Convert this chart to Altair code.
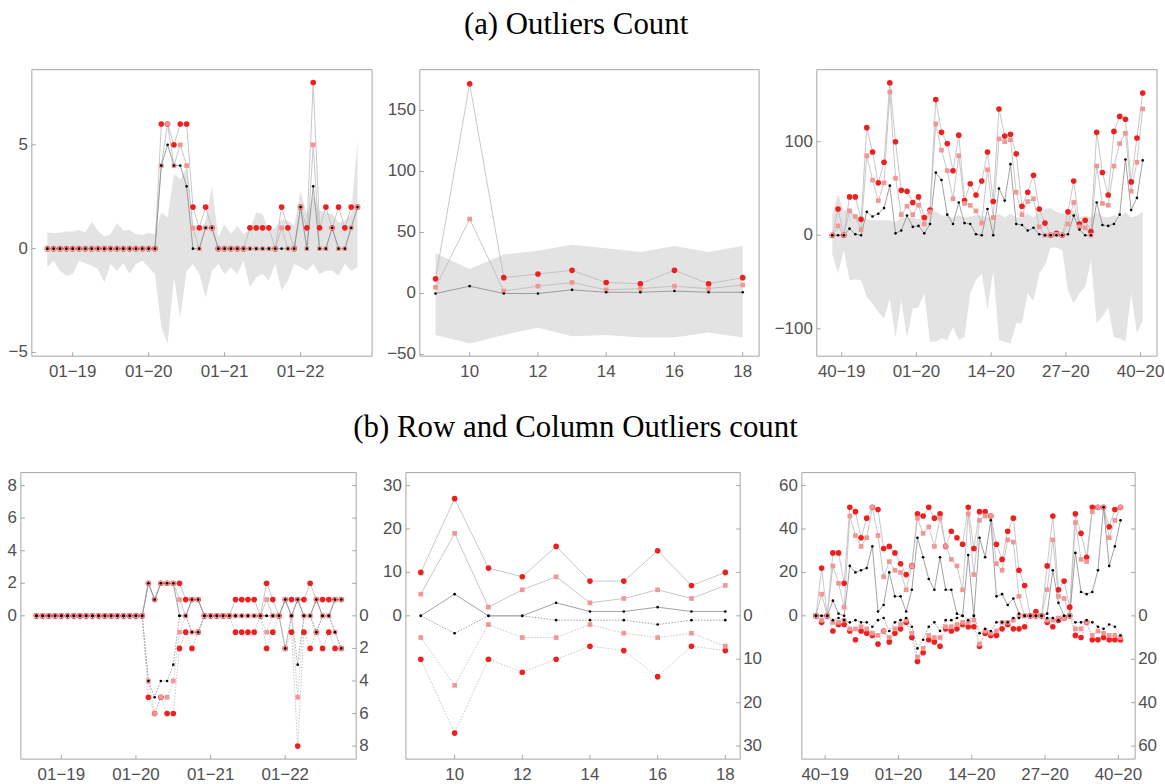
import altair as alt
import pandas as pd

TITLE_A = "(a) Outliers Count"
TITLE_B = "(b) Row and Column Outliers count"

# ---------- x positions / tick labels ----------
MONTH_X = list(range(-4, 46))          # 0 = Jan 2019
MONTH_TICKS = [0, 12, 24, 36]
MONTH_LABELS = ["01−19", "01−20", "01−21", "01−22"]

DAY_X = [9, 10, 11, 12, 13, 14, 15, 16, 17, 18]
DAY_TICKS = [10, 12, 14, 16, 18]
DAY_LABELS = ["10", "12", "14", "16", "18"]

WEEK_X = list(range(0, 55))
WEEK_TICKS = [1.63, 14.63, 27.63, 40.63, 53.63]
WEEK_LABELS = ["40−19", "01−20", "14−20", "27−20", "40−20"]

# ---------- (a) panel 1 : monthly ----------
P1_RED = [0, 0, 0, 0, 0, 0, 0, 0, 0, 0, 0, 0, 0, 0, 0, 0, 0, 0,
          6, 6, 5, 6, 6, 2, 1, 2, 1, 0, 0, 0, 0, 0, 1, 1, 1, 1, 0, 2, 1, 0,
          2, 1, 8, 1, 2, 1, 2, 1, 2, 2]
P1_PINK = [0, 0, 0, 0, 0, 0, 0, 0, 0, 0, 0, 0, 0, 0, 0, 0, 0, 0,
           4, 6, 4, 5, 4, 1, 0, 1, 1, 0, 0, 0, 0, 0, 0, 0, 0, 0, 0, 1, 0, 0,
           2, 0, 5, 0, 0, 1, 0, 0, 1, 2]
P1_BLACK = [0, 0, 0, 0, 0, 0, 0, 0, 0, 0, 0, 0, 0, 0, 0, 0, 0, 0,
            4, 5, 4, 4, 3, 0, 0, 1, 1, 0, 0, 0, 0, 0, 0, 0, 0, 0, 0, 0, 0, 0,
            2, 0, 3, 0, 0, 1, 0, 0, 1, 2]
P1_BAND_HI = [0.78, 0.74, 0.78, 0.83, 0.82, 0.9, 0.78, 1.3, 0.86, 0.58, 0.7, 1.24,
              0.86, 0.9, 0.7, 0.66, 0.75, 0.7,
              1.75, 1.5, 3.58, 3.34, 3.9, 1.02, 0.86, 1.34, 3.0, 0.54, 1.18, 0.7,
              1.1, 0.7, 0.94, 1.75, 1.66, 0.86, 1.02, 1.42, 1.34, 1.1, 2.78, 1.66,
              2.54, 1.82, 1.74, 1.66, 1.26, 1.34, 1.66, 5.18]
P1_BAND_LO = [-0.9, -0.58, -1.06, -1.3, -1.22, -0.58, -0.7, -0.82, -0.98, -1.62, -0.74,
              -1.09, -0.7, -1.22, -0.74, -0.58, -0.9, -1.22,
              -3.78, -4.58, -1.38, -3.3, -1.06, -0.74, -1.22, -2.34, -1.06, -0.74,
              -1.22, -0.9, -1.22, -0.58, -1.86, -1.38, -1.22, -1.54, -0.74, -2.02,
              -1.54, -0.74, -0.9, -1.06, -0.74, -1.22, -1.06, -1.06, -1.3, -0.74,
              -1.06, -0.9]

# ---------- (a) panel 2 : daily ----------
P2_RED = [12, 172, 13, 16, 19, 9, 8, 19, 8, 13]
P2_PINK = [5, 61, 2, 6, 9, 3, 4, 6, 4, 7]
P2_BLACK = [0, 6, 0, 0, 3, 1, 1, 2, 1, 1]
P2_BAND_HI = [33, 20, 32, 35, 40, 37, 34, 39, 34, 39]
P2_BAND_LO = [-34, -41, -34, -28, -35, -34, -36, -36, -32, -36]

# ---------- (a) panel 3 : weekly ----------
P3_RED = [0, 28, 0, 41, 41, 17, 115, 89, 56, 78,
          163, 100, 48, 47, 35, 41, 19, 27, 145, 110,
          98, 69, 107, 37, 55, 43, 58, 89, 36, 135,
          106, 108, 87, 31, 46, 64, 28, 13, 0, 2,
          0, 25, 58, 12, 16, 4, 110, 67, 43, 111,
          127, 124, 57, 104, 152]
P3_PINK = [0, 10, 0, 26, 20, 6, 85, 59, 37, 56,
           153, 61, 22, 31, 22, 32, 12, 25, 119, 91,
           69, 39, 85, 34, 32, 26, 13, 70, 19, 103,
           100, 102, 46, 22, 36, 39, 9, 0, 0, 1,
           0, 12, 35, 9, 8, 0, 74, 34, 32, 74,
           98, 109, 47, 78, 135]
P3_BLACK = [0, 0, 0, 7, 1, 0, 25, 20, 23, 29,
            53, 2, 5, 21, 9, 10, 2, 12, 67, 59,
            22, 12, 35, 13, 12, 1, 0, 28, 0, 50,
            37, 76, 12, 11, 5, 8, 1, 0, 0, 0,
            0, 1, 21, 6, 0, 0, 35, 11, 10, 12,
            22, 81, 27, 40, 80]
P3_BAND_HI = [23, 44, 26, 30, 19, 19, 17, 16, 16, 16,
              16, 14, 19, 19, 19, 17, 19, 23, 26, 21,
              21, 19, 21, 19, 20, 21, 21, 19, 19, 23,
              19, 23, 19, 19, 23, 19, 25, 28, 29, 25,
              23, 23, 27, 19, 21, 19, 25, 20, 19, 21,
              19, 25, 19, 21, 25]
P3_BAND_LO = [-20, -41, -16, -48, -47, -48, -66, -73, -82, -89,
              -68, -109, -70, -109, -78, -77, -62, -114, -114, -110,
              -112, -98, -112, -109, -62, -48, -41, -80, -38, -112,
              -114, -116, -94, -94, -62, -70, -41, -32, -13, -13,
              -16, -59, -73, -62, -55, -27, -94, -87, -77, -109,
              -110, -114, -62, -105, -91]

# ---------- (b) panel 4 : monthly, rows (up) / columns (down) ----------
P4_UP_RED = [0, 0, 0, 0, 0, 0, 0, 0, 0, 0, 0, 0, 0, 0, 0, 0, 0, 0,
             2, 1, 2, 2, 2, 2, 1, 1, 1, 0, 0, 0, 0, 0, 1, 1, 1, 1, 0, 2, 1, 0,
             1, 1, 1, 1, 2, 1, 1, 1, 1, 1]
P4_UP_PINK = [0, 0, 0, 0, 0, 0, 0, 0, 0, 0, 0, 0, 0, 0, 0, 0, 0, 0,
              2, 1, 2, 2, 2, 1, 0, 1, 1, 0, 0, 0, 0, 0, 0, 0, 0, 0, 0, 1, 0, 0,
              1, 0, 1, 0, 0, 1, 0, 0, 1, 1]
P4_UP_BLACK = [0, 0, 0, 0, 0, 0, 0, 0, 0, 0, 0, 0, 0, 0, 0, 0, 0, 0,
               2, 1, 2, 2, 2, 0, 0, 1, 1, 0, 0, 0, 0, 0, 0, 0, 0, 0, 0, 0, 0, 0,
               1, 0, 1, 0, 0, 1, 0, 0, 1, 1]
P4_LO_RED = [0, 0, 0, 0, 0, 0, 0, 0, 0, 0, 0, 0, 0, 0, 0, 0, 0, 0,
             -5, -6, -5, -6, -6, -2, -1, -2, -1, 0, 0, 0, 0, 0, -1, -1, -1, -1, 0,
             -2, -1, 0, -2, -1, -8, -1, -2, -1, -2, -1, -2, -2]
P4_LO_PINK = [0, 0, 0, 0, 0, 0, 0, 0, 0, 0, 0, 0, 0, 0, 0, 0, 0, 0,
              -4, -6, -5, -5, -4, -1, 0, -1, -1, 0, 0, 0, 0, 0, 0, 0, 0, 0, 0,
              -1, 0, 0, -2, 0, -5, 0, 0, -1, 0, 0, -1, -2]
P4_LO_BLACK = [0, 0, 0, 0, 0, 0, 0, 0, 0, 0, 0, 0, 0, 0, 0, 0, 0, 0,
               -4, -5, -4, -4, -3, 0, 0, -1, -1, 0, 0, 0, 0, 0, 0, 0, 0, 0, 0,
               0, 0, 0, -2, 0, -3, 0, 0, -1, 0, 0, -1, -2]

# ---------- (b) panel 5 : daily ----------
P5_UP_RED = [10, 27, 11, 9, 16, 8, 8, 15, 7, 10]
P5_UP_PINK = [5, 19, 2, 6, 9, 3, 4, 6, 4, 7]
P5_UP_BLACK = [0, 5, 0, 0, 3, 1, 1, 2, 1, 1]
P5_LO_RED = [-10, -27, -10, -13, -10, -7, -8, -14, -7, -8]
P5_LO_PINK = [-5, -16, -2, -5, -5, -2, -4, -5, -4, -7]
P5_LO_BLACK = [0, -4, 0, 0, -1, -1, -1, -2, -1, -1]

# ---------- (b) panel 6 : weekly ----------
P6_UP_RED = [0, 22, 0, 29, 29, 15, 50, 48, 36, 45,
             50, 49, 31, 32, 29, 24, 19, 23, 47, 46,
             50, 45, 47, 32, 39, 36, 33, 50, 31, 48,
             48, 46, 33, 26, 39, 45, 21, 14, 0, 2,
             0, 23, 46, 12, 16, 4, 47, 38, 27, 50,
             50, 50, 41, 49, 50]
P6_UP_PINK = [0, 10, 0, 23, 15, 4, 46, 37, 32, 36,
              50, 37, 18, 25, 21, 20, 12, 23, 45, 38,
              41, 32, 45, 32, 26, 23, 12, 47, 19, 44,
              46, 46, 24, 21, 35, 34, 9, 0, 0, 0,
              0, 12, 35, 9, 8, 0, 43, 26, 25, 48,
              50, 50, 36, 44, 50]
P6_UP_BLACK = [0, 0, 0, 7, 1, 0, 23, 20, 21, 22,
               32, 2, 5, 20, 9, 9, 2, 12, 36, 27,
               17, 12, 27, 12, 12, 1, 0, 28, 0, 36,
               27, 44, 9, 10, 5, 8, 1, 0, 0, 0,
               0, 1, 21, 6, 0, 0, 29, 11, 10, 11,
               21, 50, 23, 32, 44]
P6_LO_RED = [0, -3, 0, -7, -4, -4, -7, -11, -7, -8,
             -9, -13, -7, -12, -8, -6, -3, -10, -21, -17,
             -11, -12, -14, -6, -7, -6, -4, -5, -5, -14,
             -8, -9, -9, -6, -4, -6, -6, -5, 0, 0,
             0, -3, -5, -2, -1, 0, -9, -10, -3, -11,
             -11, -10, -11, -11, -11]
P6_LO_PINK = [0, -2, 0, -3, -3, -2, -6, -6, -5, -6,
              -8, -9, -7, -10, -6, -4, -2, -8, -19, -15,
              -9, -10, -10, -5, -5, -4, -3, -3, -2, -13,
              -7, -8, -7, -3, -3, -2, 0, 0, 0, 0,
              0, -2, -2, -1, -1, 0, -6, -6, -3, -9,
              -7, -8, -9, -9, -10]
P6_LO_BLACK = [0, 0, 0, -2, -1, -2, -3, -2, -3, -3,
               -5, -2, -1, -7, -3, -2, -1, -5, -15, -11,
               -5, -3, -7, -2, -2, -1, 0, -2, 0, -8,
               -6, -7, -3, -3, -3, -1, -1, 0, 0, 0,
               0, -1, -1, -2, 0, 0, -3, -3, -2, -3,
               -5, -6, -4, -5, -9]

# ---------- styles ----------
RED = "#ee1f1f"
PINK = "#f29595"
BLACK = "#000000"
LINE_LIGHT = "#b9b9b9"
LINE_DARK = "#8a8a8a"
BAND_C = "#e3e3e3"
FRAME = "#a4a4a4"
LABEL_C = "#505050"
LABEL_FONT = "Liberation Sans"
LABEL_SIZE = 17
TICK_LEN = 4


def fmt(v):
    return ("−" + str(abs(v))) if v < 0 else str(v)


def make_panel(xs, series, xdom, ydom, xticks, xlabels, yleft, w, h,
               band=None, yright_ticks=None, yright_labels=None):
    xsc = alt.Scale(domain=xdom, nice=False, zero=False)
    ysc = alt.Scale(domain=ydom, nice=False, zero=False)

    def X(f):
        return alt.X(f, type="quantitative", scale=xsc, axis=None)

    def Y(f):
        return alt.Y(f, type="quantitative", scale=ysc, axis=None)

    xspan = xdom[1] - xdom[0]
    yspan = ydom[1] - ydom[0]
    layers = []
    if band is not None:
        bdf = pd.DataFrame({"x": xs, "lo": band[0], "hi": band[1]})
        layers.append(alt.Chart(bdf).mark_area(color=BAND_C, opacity=1).encode(
            x=X("x"), y=Y("lo"), y2=alt.Y2("hi")))
    for vals, kind, down in series:
        df = pd.DataFrame({"x": xs, "y": vals})
        col = LINE_DARK if kind == "black" else LINE_LIGHT
        if down:
            mk = alt.Chart(df).mark_line(color=col, strokeWidth=0.8, strokeDash=[1.5, 1.5])
        else:
            mk = alt.Chart(df).mark_line(color=col, strokeWidth=0.8)
        layers.append(mk.encode(x=X("x"), y=Y("y")))
    for kind in ["red", "pink", "black"]:
        for vals, k, down in series:
            if k != kind:
                continue
            df = pd.DataFrame({"x": xs, "y": vals})
            if kind == "red":
                mk = alt.Chart(df).mark_circle(color=RED, size=32, opacity=1)
            elif kind == "pink":
                mk = alt.Chart(df).mark_square(color=PINK, size=22, opacity=1)
            else:
                mk = alt.Chart(df).mark_circle(color=BLACK, size=7, opacity=1)
            layers.append(mk.encode(x=X("x"), y=Y("y")))
    # bottom ticks + labels
    xt = pd.DataFrame({"tv": xticks, "lab": xlabels,
                       "yb": [ydom[0]] * len(xticks),
                       "yt": [ydom[0] + yspan * TICK_LEN / h] * len(xticks)})
    layers.append(alt.Chart(xt).mark_rule(color=FRAME, strokeWidth=1).encode(
        x=X("tv"), y=Y("yb"), y2=alt.Y2("yt")))
    layers.append(alt.Chart(xt).mark_text(
        align="center", baseline="top", font=LABEL_FONT, fontSize=LABEL_SIZE,
        color=LABEL_C, dy=8).encode(x=X("tv"), y=Y("yb"), text="lab:N"))
    # left ticks + labels
    yt = pd.DataFrame({"tv": yleft, "lab": [fmt(v) for v in yleft],
                       "xl": [xdom[0]] * len(yleft),
                       "xt": [xdom[0] + xspan * TICK_LEN / w] * len(yleft)})
    layers.append(alt.Chart(yt).mark_rule(color=FRAME, strokeWidth=1).encode(
        y=Y("tv"), x=X("xl"), x2=alt.X2("xt")))
    layers.append(alt.Chart(yt).mark_text(
        align="right", baseline="middle", font=LABEL_FONT, fontSize=LABEL_SIZE,
        color=LABEL_C, dx=-4).encode(y=Y("tv"), x=X("xl"), text="lab:N"))
    if yright_ticks is not None:
        rt = pd.DataFrame({"tv": yright_ticks,
                           "xr": [xdom[1]] * len(yright_ticks),
                           "xq": [xdom[1] - xspan * TICK_LEN / w] * len(yright_ticks)})
        layers.append(alt.Chart(rt).mark_rule(color=FRAME, strokeWidth=1).encode(
            y=Y("tv"), x=X("xq"), x2=alt.X2("xr")))
        rl = pd.DataFrame({"tv": yright_labels,
                           "lab": [str(abs(v)) for v in yright_labels],
                           "xr": [xdom[1]] * len(yright_labels)})
        layers.append(alt.Chart(rl).mark_text(
            align="left", baseline="middle", font=LABEL_FONT, fontSize=LABEL_SIZE,
            color=LABEL_C, dx=3).encode(y=Y("tv"), x=X("xr"), text="lab:N"))
    fr = pd.DataFrame({"x0": [xdom[0]], "x1": [xdom[1]], "y0": [ydom[0]], "y1": [ydom[1]]})
    layers.append(alt.Chart(fr).mark_rect(filled=False, stroke=FRAME, strokeWidth=1).encode(
        x=X("x0"), x2=alt.X2("x1"), y=Y("y0"), y2=alt.Y2("y1")))
    return alt.layer(*layers).properties(width=w, height=h)


def spacer(w, h):
    return alt.Chart(pd.DataFrame({"s": [0]})).mark_point(opacity=0).encode(
        x=alt.X("s:Q", axis=None), y=alt.Y("s:Q", axis=None)).properties(width=w, height=h)


def title_chart(text, w, h, by):
    return alt.Chart(pd.DataFrame({"t": [text], "v": [by]})).mark_text(
        font="Liberation Serif", fontSize=31, align="center", baseline="alphabetic",
        color="black").encode(
        text="t:N", x=alt.X("t:N", axis=None),
        y=alt.Y("v:Q", axis=None, scale=alt.Scale(domain=[0, h], reverse=True, nice=False, zero=False))
    ).properties(width=w, height=h)


H = 288

p1 = make_panel(MONTH_X, [(P1_RED, "red", False), (P1_PINK, "pink", False), (P1_BLACK, "black", False)],
                [-6.45, 47.3], [-5.18, 8.62], MONTH_TICKS, MONTH_LABELS, [-5, 0, 5], 342, H,
                band=(P1_BAND_LO, P1_BAND_HI))
p2 = make_panel(DAY_X, [(P2_RED, "red", False), (P2_PINK, "pink", False), (P2_BLACK, "black", False)],
                [8.54, 18.48], [-51.4, 183.5], DAY_TICKS, DAY_LABELS, [-50, 0, 50, 100, 150], 341, H,
                band=(P2_BAND_LO, P2_BAND_HI))
p3 = make_panel(WEEK_X, [(P3_RED, "red", False), (P3_PINK, "pink", False), (P3_BLACK, "black", False)],
                [-2.7, 56.5], [-129.3, 177], WEEK_TICKS, WEEK_LABELS, [-100, 0, 100], 342, H,
                band=(P3_BAND_LO, P3_BAND_HI))

p4 = make_panel(MONTH_X, [(P4_UP_RED, "red", False), (P4_UP_PINK, "pink", False), (P4_UP_BLACK, "black", False),
                          (P4_LO_RED, "red", True), (P4_LO_PINK, "pink", True), (P4_LO_BLACK, "black", True)],
                [-6.5, 47.4], [-8.8, 8.8], MONTH_TICKS, MONTH_LABELS, [0, 2, 4, 6, 8], 337, H,
                yright_ticks=[-8, -6, -4, -2, 0, 2, 4, 6, 8], yright_labels=[-8, -6, -4, -2, 0])
p5 = make_panel(DAY_X, [(P5_UP_RED, "red", False), (P5_UP_PINK, "pink", False), (P5_UP_BLACK, "black", False),
                        (P5_LO_RED, "red", True), (P5_LO_PINK, "pink", True), (P5_LO_BLACK, "black", True)],
                [8.56, 18.44], [-33, 33], DAY_TICKS, DAY_LABELS, [0, 10, 20, 30], 336, H,
                yright_ticks=[-30, -20, -10, 0, 10, 20, 30], yright_labels=[-30, -20, -10, 0])
p6 = make_panel(WEEK_X, [(P6_UP_RED, "red", False), (P6_UP_PINK, "pink", False), (P6_UP_BLACK, "black", False),
                         (P6_LO_RED, "red", True), (P6_LO_PINK, "pink", True), (P6_LO_BLACK, "black", True)],
                [-2.5, 56.6], [-66, 66], WEEK_TICKS, WEEK_LABELS, [0, 20, 40, 60], 335, H,
                yright_ticks=[-60, -40, -20, 0, 20, 40, 60], yright_labels=[-60, -40, -20, 0])

row1 = alt.hconcat(spacer(5, 328), p1, spacer(14, H), p2, spacer(14, H), p3, spacing=0)
row2 = alt.hconcat(spacer(3, H), p4, spacer(14, H), p5, spacer(17, H), p6, spacing=0)

chart = alt.vconcat(
    title_chart(TITLE_A, 1154, 67, 32),
    row1,
    title_chart(TITLE_B, 1153, 76, 41),
    row2,
    spacing=0,
).properties(
    padding={"left": 0, "top": 0, "right": 0, "bottom": 0},
    background="white",
).configure_view(
    stroke="transparent", strokeWidth=0
)

chart.save("out.html", embed_options={"renderer": "svg", "actions": False})
